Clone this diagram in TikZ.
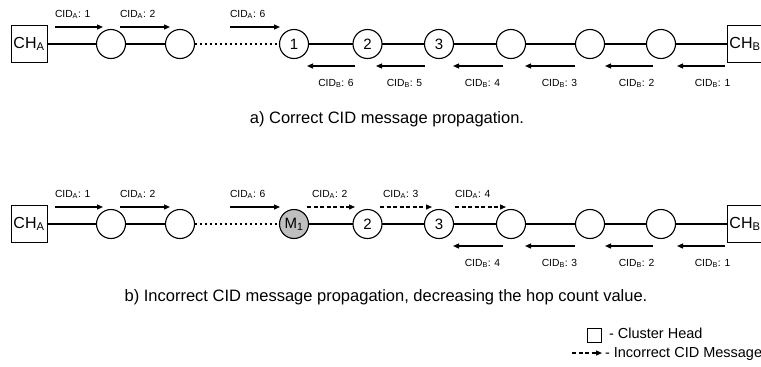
\documentclass[tikz,border=0pt]{standalone}
\usepackage{fontspec}
\setmainfont{Liberation Sans}
\usetikzlibrary{arrows.meta}
\begin{document}
\begin{tikzpicture}[x=1pt,y=-1pt,
  every node/.style={inner sep=0pt, outer sep=0pt},
  chbox/.style={draw, line width=0.8pt, minimum width=36pt, minimum height=37pt, font=\fontsize{16}{18}\selectfont},
  snode/.style={draw, circle, line width=1.1pt, minimum size=29pt, font=\fontsize{15}{18}\selectfont},
  malnode/.style={snode, fill=black!25},
  link/.style={line width=1.8pt},
  dotlink/.style={line width=2.6pt, dash pattern=on 2.6pt off 2.4pt},
  msg/.style={line width=1.2pt, -{Triangle[length=6pt,width=5pt]}},
  badmsg/.style={msg, dash pattern=on 4pt off 2.5pt},
  lbl/.style={font=\fontsize{10.3}{12}\selectfont},
  captext/.style={font=\fontsize{16.5}{20}\selectfont},
  legtext/.style={font=\fontsize{14.5}{18}\selectfont}]
\useasboundingbox (0,0) rectangle (761,367);

% ---------- row a ----------
\node[chbox] (ha) at (29,44) {CH\textsubscript{A}};
\node[snode] (a1) at (111,44) {};
\node[snode] (a2) at (180,44) {};
\node[snode] (a3) at (294,44) {1};
\node[snode] (a4) at (367.5,44) {2};
\node[snode] (a5) at (439,44) {3};
\node[snode] (a6) at (511,44) {};
\node[snode] (a7) at (590,44) {};
\node[snode] (a8) at (661,44) {};
\node[chbox] (hb) at (745,44) {CH\textsubscript{B}};
\draw[link] (ha) -- (a1);
\draw[link] (a1) -- (a2);
\draw[dotlink] (a2) -- (a3);
\draw[link] (a3) -- (a4);
\draw[link] (a4) -- (a5);
\draw[link] (a5) -- (a6);
\draw[link] (a6) -- (a7);
\draw[link] (a7) -- (a8);
\draw[link] (a8) -- (hb);

\foreach \n/\s/\e/\t in {1/55/103/1, 2/120/170/2, 3/230/280/6}{
  \coordinate (af\n s) at (\s,27);
  \coordinate (af\n e) at (\e,27);
  \draw[msg] (af\n s) -- (af\n e);
  \node[lbl, anchor=base west] (afl\n) at (\s,17.3) {CID\textsubscript{A}: \t};
}
\foreach \n/\s/\e/\c/\t in {1/355/307/336/6, 2/425/376/404.5/5, 3/503/453/482.5/4, 4/575/525/559.5/3, 5/653/605/636.5/2, 6/725/677/712.5/1}{
  \coordinate (ab\n s) at (\s,66);
  \coordinate (ab\n e) at (\e,66);
  \draw[msg] (ab\n s) -- (ab\n e);
  \node[lbl, anchor=base] (abl\n) at (\c,86) {CID\textsubscript{B}: \t};
}
\node[captext, anchor=base] (capa) at (387,123.3) {a) Correct CID message propagation.};

% ---------- row b ----------
\node[chbox] (hab) at (29,224) {CH\textsubscript{A}};
\node[snode] (b1) at (111,224) {};
\node[snode] (b2) at (180,224) {};
\node[malnode] (b3) at (294,224) {M\textsubscript{1}};
\node[snode] (b4) at (367.5,224) {2};
\node[snode] (b5) at (439,224) {3};
\node[snode] (b6) at (511,224) {};
\node[snode] (b7) at (590,224) {};
\node[snode] (b8) at (661,224) {};
\node[chbox] (hbb) at (745,224) {CH\textsubscript{B}};
\draw[link] (hab) -- (b1);
\draw[link] (b1) -- (b2);
\draw[dotlink] (b2) -- (b3);
\draw[link] (b3) -- (b4);
\draw[link] (b4) -- (b5);
\draw[link] (b5) -- (b6);
\draw[link] (b6) -- (b7);
\draw[link] (b7) -- (b8);
\draw[link] (b8) -- (hbb);

\foreach \n/\s/\e/\t in {1/55/103/1, 2/120/170/2, 3/230/280/6}{
  \coordinate (bf\n s) at (\s,207);
  \coordinate (bf\n e) at (\e,207);
  \draw[msg] (bf\n s) -- (bf\n e);
  \node[lbl, anchor=base west] (bfl\n) at (\s,197.3) {CID\textsubscript{A}: \t};
}
\foreach \n/\s/\e/\l/\t in {4/307/355/312/2, 5/380/432/383/3, 6/455/506/455/4}{
  \coordinate (bf\n s) at (\s,207);
  \coordinate (bf\n e) at (\e,207);
  \draw[badmsg] (bf\n s) -- (bf\n e);
  \node[lbl, anchor=base west] (bfl\n) at (\l,197.3) {CID\textsubscript{A}: \t};
}
\foreach \n/\s/\e/\c/\t in {3/503/453/482.5/4, 4/575/525/559.5/3, 5/653/605/636.5/2, 6/725/677/712.5/1}{
  \coordinate (bb\n s) at (\s,246);
  \coordinate (bb\n e) at (\e,246);
  \draw[msg] (bb\n s) -- (bb\n e);
  \node[lbl, anchor=base] (bbl\n) at (\c,266) {CID\textsubscript{B}: \t};
}
\node[captext, anchor=base] (capb) at (386,301.3) {b) Incorrect CID message propagation, decreasing the hop count value.};

% ---------- legend ----------
\node[draw, line width=0.8pt, minimum size=14pt] (legbox) at (594,335) {};
\node[legtext, anchor=base west] (legt1) at (609,338.6) {- Cluster Head};
\coordinate (lgs) at (572,353);
\coordinate (lge) at (602,353);
\draw[badmsg] (lgs) -- (lge);
\node[legtext, anchor=base west] (legt2) at (605,357.5) {- Incorrect CID Message};
\end{tikzpicture}
\end{document}
